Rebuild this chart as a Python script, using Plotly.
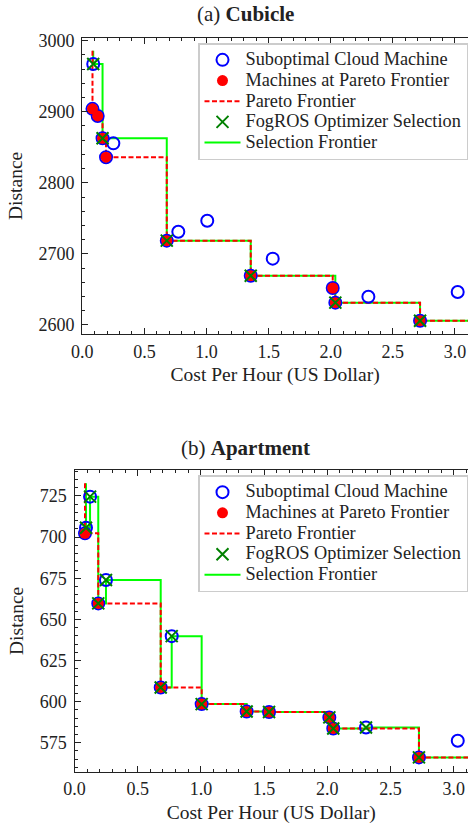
import plotly.graph_objects as go

# ---------------- Data: (a) Cubicle ----------------
cub_cost = [0.088, 0.082, 0.124, 0.163, 0.250, 0.191, 0.680, 0.773, 1.006,
            1.356, 1.533, 2.016, 2.037, 2.303, 2.719, 3.022]
cub_dist = [2967, 2904, 2894, 2862.6, 2855.5, 2836, 2718.6, 2731.2, 2746.7,
            2669.3, 2693.3, 2652.0, 2631.4, 2639.8, 2606.0, 2646.4]
cub_pareto_cost = [0.082, 0.124, 0.163, 0.191, 0.680, 1.356, 2.016, 2.037, 2.719]
cub_pareto_dist = [2904, 2894, 2862.6, 2836, 2718.6, 2669.3, 2652.0, 2631.4, 2606.0]
cub_sel_cost = [0.088, 0.163, 0.680, 1.356, 2.037, 2.719]
cub_sel_dist = [2967, 2862.6, 2718.6, 2669.3, 2631.4, 2606.0]
cub_frontier_top = 2985.8
frontier_end_cost = 3.4

# ---------------- Data: (b) Apartment ----------------
apt_cost = [0.083, 0.091, 0.123, 0.188, 0.249, 0.682, 0.769, 1.006, 1.362,
            1.539, 2.016, 2.047, 2.306, 2.725, 3.032]
apt_dist = [702.3, 705.7, 724.6, 659.7, 673.9, 608.6, 639.8, 598.5, 594.0,
            593.7, 590.4, 583.7, 584.3, 566.1, 576.2]
apt_pareto_cost = [0.083, 0.188, 0.682, 1.006, 1.362, 1.539, 2.016, 2.047, 2.725]
apt_pareto_dist = [702.3, 659.7, 608.6, 598.5, 594.0, 593.7, 590.4, 583.7, 566.1]
apt_sel_cost = [0.091, 0.123, 0.188, 0.249, 0.682, 0.769, 1.006, 1.362, 1.539,
                2.016, 2.047, 2.306, 2.725]
apt_sel_dist = [705.7, 724.6, 659.7, 673.9, 608.6, 639.8, 598.5, 594.0, 593.7,
                590.4, 583.7, 584.3, 566.1]
apt_frontier_top = 732.7

titles = ["(a) <b>Cubicle</b>", "(b) <b>Apartment</b>"]
x_title = "Cost Per Hour (US Dollar)"
y_title = "Distance"
x_ticks = [0.0, 0.5, 1.0, 1.5, 2.0, 2.5, 3.0]
cub_y_ticks = [2600, 2700, 2800, 2900, 3000]
apt_y_ticks = [575, 600, 625, 650, 675, 700, 725]

names = ["Suboptimal Cloud Machine", "Machines at Pareto Frontier",
         "Pareto Frontier", "FogROS Optimizer Selection", "Selection Frontier"]

FONT = "Liberation Serif"
W, H = 468, 825


def px_x(p):
    return p / W


def px_y(p):
    return 1 - p / H


fig = go.Figure()


def lname(s):
    return f"<span style='font-size:18.3px'>{s}</span>"


def add_panel(cost, dist, pc, pd, sc, sd, top, xa, ya, legend):
    # frontier lines (step, post)
    sel_x = [sc[0]] + sc + [frontier_end_cost]
    sel_y = [top] + sd + [sd[-1]]
    par_x = [pc[0]] + pc + [frontier_end_cost]
    par_y = [top] + pd + [pd[-1]]
    fig.add_trace(go.Scatter(x=sel_x, y=sel_y, mode="lines", line_shape="hv",
                             line=dict(color="#00ff00", width=2),
                             name=lname(names[4]), legendrank=5, legend=legend,
                             xaxis=xa, yaxis=ya))
    fig.add_trace(go.Scatter(x=par_x, y=par_y, mode="lines", line_shape="hv",
                             line=dict(color="red", width=2, dash="5px,2.5px"),
                             name=lname(names[2]), legendrank=3, legend=legend,
                             xaxis=xa, yaxis=ya))
    fig.add_trace(go.Scatter(x=cost, y=dist, mode="markers",
                             marker=dict(symbol="circle-open", size=12, color="blue",
                                         line=dict(width=2, color="blue")),
                             name=lname(names[0]), legendrank=1, legend=legend,
                             xaxis=xa, yaxis=ya))
    fig.add_trace(go.Scatter(x=pc, y=pd, mode="markers",
                             marker=dict(symbol="circle", size=11, color="red",
                                         line=dict(width=0)),
                             name=lname(names[1]), legendrank=2, legend=legend,
                             xaxis=xa, yaxis=ya))
    fig.add_trace(go.Scatter(x=sc, y=sd, mode="markers",
                             marker=dict(symbol="x-thin-open", size=12, color="green",
                                         line=dict(width=2, color="green")),
                             name=lname(names[3]), legendrank=4, legend=legend,
                             xaxis=xa, yaxis=ya))


add_panel(cub_cost, cub_dist, cub_pareto_cost, cub_pareto_dist,
          cub_sel_cost, cub_sel_dist, cub_frontier_top, "x", "y", "legend")
add_panel(apt_cost, apt_dist, apt_pareto_cost, apt_pareto_dist,
          apt_sel_cost, apt_sel_dist, apt_frontier_top, "x2", "y2", "legend2")

axis_common = dict(showline=True, linecolor="#222222", linewidth=1.3,
                   ticks="inside", ticklen=6, tickwidth=1, tickcolor="#222222",
                   showgrid=False, zeroline=False, automargin=False,
                   tickfont=dict(family=FONT, size=18, color="#222222"),
                   title_font=dict(family=FONT, size=19.5, color="#222222"))
xminor = dict(ticks="inside", ticklen=3, dtick=0.1, tickcolor="#222222", showgrid=False)

legend_common = dict(x=1, xanchor="right", yanchor="top", itemwidth=36,
                     bgcolor="white", bordercolor="#cccccc", borderwidth=1.5,
                     font=dict(family=FONT, size=13.6, color="#222222"))

fig.update_layout(
    template="none",
    width=W, height=H,
    margin=dict(l=0, r=0, t=0, b=0, pad=0),
    paper_bgcolor="white", plot_bgcolor="white",
    font=dict(family=FONT, color="#222222"),
    xaxis=dict(domain=[px_x(82.3), 1], range=[0, 3.105], anchor="y",
               tickvals=x_ticks, ticktext=[f"{v:.1f}" for v in x_ticks],
               mirror="allticks", title=dict(text=x_title, standoff=6),
               ticklabelstandoff=1, minor=xminor, **axis_common),
    yaxis=dict(domain=[px_y(334), px_y(37.7)], range=[2587.3, 3004.1], anchor="x",
               tickvals=cub_y_ticks, mirror=False, title=dict(text=y_title, standoff=10),
               ticklabelstandoff=3,
               minor=dict(ticks="inside", ticklen=3, dtick=20, tickcolor="#222222", showgrid=False),
               **axis_common),
    xaxis2=dict(domain=[px_x(74.5), 1], range=[0, 3.113], anchor="y2",
                tickvals=x_ticks, ticktext=[f"{v:.1f}" for v in x_ticks],
                mirror="allticks", title=dict(text=x_title, standoff=6),
                ticklabelstandoff=1, minor=xminor, **axis_common),
    yaxis2=dict(domain=[px_y(771.7), px_y(470)], range=[557.4, 740.8], anchor="x2",
                tickvals=apt_y_ticks, mirror=False, title=dict(text=y_title, standoff=10),
                ticklabelstandoff=3,
                minor=dict(ticks="inside", ticklen=3, dtick=5, tickcolor="#222222", showgrid=False),
                **axis_common),
    legend=dict(y=px_y(43), **legend_common),
    legend2=dict(y=px_y(475.3), **legend_common),
    annotations=[
        dict(text=titles[0], x=px_x(245), y=px_y(13.8), xref="paper", yref="paper",
             xanchor="center", yanchor="middle", showarrow=False,
             font=dict(family=FONT, size=21, color="#222222")),
        dict(text=titles[1], x=px_x(245), y=px_y(448.3), xref="paper", yref="paper",
             xanchor="center", yanchor="middle", showarrow=False,
             font=dict(family=FONT, size=21, color="#222222")),
    ],
)

# remove the browser's default page margin so the 468x825 figure fills the window exactly
fig.write_html(
    "out.html",
    config={"displayModeBar": False},
    post_script=("document.body.style.margin='0';"
                 "document.body.style.overflow='hidden';"
                 "document.documentElement.style.overflow='hidden';"),
)
